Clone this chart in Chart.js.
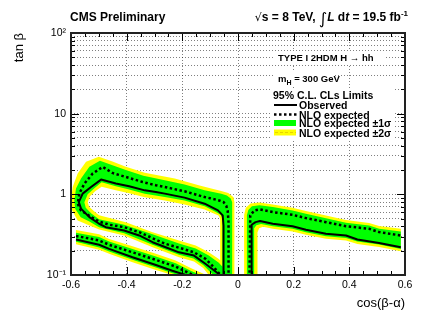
<!DOCTYPE html>
<html>
<head>
<meta charset="utf-8">
<style>
  html, body { margin: 0; padding: 0; background: #fff; }
  #wrap { width: 441px; height: 317px; }
</style>
</head>
<body>
<div id="wrap"><canvas id="limitChart" width="441" height="317"></canvas></div>
<script src="https://cdn.jsdelivr.net/npm/chart.js@4.4.1/dist/chart.umd.min.js"></script>
<script>
"use strict";

// axis ranges and tick labels
const xRange = [-0.6, 0.6];
const xMajorStep = 0.2;
const yDecades = [0.1, 1, 10, 100];
const yDecadeLabels = ['10\u207B\u00B9', '1', '10', '10\u00B2'];
const yMinorSteps = [2, 3, 4, 5, 6, 7, 8, 9];

// observed limit contours [cos(b-a), tan b]
const observedLoop = [
  [-0.052, 0.08], [-0.052, 0.41], [-0.055, 0.548], [-0.072, 0.632], [-0.12, 0.766],
  [-0.192, 0.91], [-0.263, 1.02], [-0.295, 1.068], [-0.335, 1.12], [-0.391, 1.258],
  [-0.439, 1.359], [-0.492, 1.524], [-0.528, 1.233], [-0.558, 1.02], [-0.572, 0.802],
  [-0.564, 0.664], [-0.534, 0.522], [-0.499, 0.432], [-0.475, 0.392], [-0.409, 0.356],
  [-0.355, 0.309], [-0.307, 0.255], [-0.26, 0.221], [-0.212, 0.191], [-0.158, 0.174],
  [-0.116, 0.137], [-0.069, 0.103], [-0.064, 0.095]
];
const observedLow = [
  [-0.582, 0.275], [-0.499, 0.237], [-0.463, 0.211], [-0.379, 0.166], [-0.295, 0.133],
  [-0.236, 0.113], [-0.188, 0.1], [-0.18, 0.096]
];
const observedRight = [
  [0.049, 0.08], [0.049, 0.42], [0.063, 0.452], [0.079, 0.466], [0.125, 0.432],
  [0.196, 0.403], [0.244, 0.363], [0.316, 0.324], [0.388, 0.309], [0.429, 0.275],
  [0.507, 0.25], [0.585, 0.221]
];

// NLO expected contours
const expectedLoop = [
  [-0.034, 0.08], [-0.034, 0.45], [-0.037, 0.62], [-0.042, 0.72], [-0.052, 0.8],
  [-0.068, 0.84], [-0.1, 0.895], [-0.12, 0.925], [-0.192, 1.09], [-0.263, 1.233],
  [-0.295, 1.294], [-0.343, 1.423], [-0.403, 1.642], [-0.451, 1.84], [-0.486, 2.19],
  [-0.522, 1.81], [-0.552, 1.359], [-0.57, 1.02], [-0.576, 0.766], [-0.564, 0.63],
  [-0.53, 0.53], [-0.499, 0.46], [-0.463, 0.42], [-0.409, 0.392], [-0.355, 0.339],
  [-0.307, 0.286], [-0.26, 0.243], [-0.206, 0.215], [-0.158, 0.191], [-0.116, 0.158],
  [-0.087, 0.125], [-0.063, 0.1], [-0.058, 0.094]
];
const expectedLow = [
  [-0.582, 0.305], [-0.499, 0.268], [-0.463, 0.237], [-0.379, 0.191], [-0.295, 0.154],
  [-0.224, 0.127], [-0.17, 0.103], [-0.158, 0.097]
];
const expectedRight = [
  [0.041, 0.08], [0.044, 0.548], [0.059, 0.632], [0.077, 0.651], [0.125, 0.602],
  [0.196, 0.558], [0.244, 0.507], [0.316, 0.452], [0.388, 0.403], [0.471, 0.374],
  [0.507, 0.34], [0.585, 0.309]
];

// +-1 sigma band edges
const greenLoopOuter = [
  [-0.021, 0.08], [-0.021, 0.8], [-0.026, 0.89], [-0.04, 0.97], [-0.06, 1.02],
  [-0.12, 1.12], [-0.192, 1.32], [-0.263, 1.49], [-0.34, 1.7], [-0.403, 2.0],
  [-0.451, 2.3], [-0.496, 2.6], [-0.534, 2.19], [-0.564, 1.57], [-0.582, 1.18],
  [-0.588, 0.84], [-0.585, 0.664], [-0.565, 0.52], [-0.534, 0.46], [-0.499, 0.392],
  [-0.409, 0.33], [-0.307, 0.237], [-0.212, 0.178], [-0.16, 0.16], [-0.125, 0.133],
  [-0.1, 0.109], [-0.088, 0.1], [-0.08, 0.09]
];
const greenLoopInner = [
  [-0.056, 0.08], [-0.056, 0.5], [-0.062, 0.56], [-0.078, 0.6], [-0.12, 0.71],
  [-0.192, 0.84], [-0.263, 0.93], [-0.335, 1.02], [-0.391, 1.15], [-0.439, 1.26],
  [-0.49, 1.41], [-0.515, 1.2], [-0.54, 1.0], [-0.552, 0.8], [-0.547, 0.68],
  [-0.527, 0.58], [-0.499, 0.49], [-0.409, 0.42], [-0.307, 0.32], [-0.212, 0.245],
  [-0.152, 0.213], [-0.105, 0.174], [-0.069, 0.142], [-0.045, 0.115], [-0.03, 0.09]
];
const greenLowTop = [
  [-0.582, 0.335], [-0.499, 0.295], [-0.463, 0.26], [-0.379, 0.21], [-0.295, 0.17],
  [-0.224, 0.14], [-0.17, 0.113], [-0.134, 0.1], [-0.12, 0.094]
];
const greenLowBottom = [
  [-0.582, 0.258], [-0.499, 0.22], [-0.463, 0.196], [-0.379, 0.155], [-0.295, 0.124],
  [-0.236, 0.105], [-0.215, 0.1], [-0.2, 0.094]
];
const greenRightUpper = [
  [0.032, 0.08], [0.032, 0.55], [0.037, 0.64], [0.05, 0.71], [0.077, 0.73],
  [0.125, 0.695], [0.196, 0.632], [0.244, 0.575], [0.316, 0.507], [0.388, 0.444],
  [0.471, 0.41], [0.507, 0.374], [0.585, 0.346]
];
const greenRightLower = [
  [0.058, 0.08], [0.058, 0.38], [0.066, 0.415], [0.083, 0.43], [0.125, 0.403],
  [0.196, 0.374], [0.244, 0.34], [0.316, 0.303], [0.388, 0.287], [0.429, 0.26],
  [0.507, 0.238], [0.585, 0.21]
];

// +-2 sigma band edges
const yellowLoopOuter = [
  [-0.013, 0.08], [-0.013, 0.8], [-0.016, 0.92], [-0.035, 1.04], [-0.06, 1.1],
  [-0.096, 1.18], [-0.138, 1.29], [-0.227, 1.57], [-0.335, 1.85], [-0.403, 2.2],
  [-0.451, 2.55], [-0.5, 2.93], [-0.546, 2.53], [-0.576, 1.81], [-0.594, 1.23],
  [-0.6, 0.84], [-0.596, 0.632], [-0.576, 0.475], [-0.54, 0.42], [-0.499, 0.367],
  [-0.409, 0.309], [-0.307, 0.221], [-0.212, 0.166], [-0.158, 0.147], [-0.125, 0.122],
  [-0.105, 0.1], [-0.095, 0.088]
];
const yellowLoopInner = [
  [-0.064, 0.08], [-0.064, 0.5], [-0.07, 0.545], [-0.085, 0.575], [-0.12, 0.65],
  [-0.192, 0.75], [-0.263, 0.84], [-0.335, 0.92], [-0.391, 1.03], [-0.439, 1.12],
  [-0.49, 1.24], [-0.512, 1.1], [-0.532, 0.95], [-0.54, 0.8], [-0.535, 0.7],
  [-0.515, 0.61], [-0.499, 0.55], [-0.403, 0.452], [-0.307, 0.339], [-0.212, 0.267],
  [-0.152, 0.232], [-0.105, 0.191], [-0.069, 0.158], [-0.04, 0.125], [-0.02, 0.09]
];
const yellowLowTop = [
  [-0.582, 0.36], [-0.499, 0.32], [-0.463, 0.28], [-0.379, 0.227], [-0.295, 0.183],
  [-0.224, 0.151], [-0.17, 0.122], [-0.114, 0.1], [-0.1, 0.094]
];
const yellowLowBottom = [
  [-0.582, 0.24], [-0.499, 0.205], [-0.463, 0.183], [-0.379, 0.144], [-0.295, 0.115],
  [-0.236, 0.1], [-0.22, 0.094]
];
const yellowRightUpper = [
  [0.022, 0.08], [0.022, 0.56], [0.028, 0.68], [0.045, 0.77], [0.077, 0.79],
  [0.125, 0.75], [0.196, 0.68], [0.244, 0.62], [0.316, 0.545], [0.388, 0.48],
  [0.471, 0.44], [0.507, 0.405], [0.585, 0.375]
];
const yellowRightLower = [
  [0.07, 0.08], [0.07, 0.34], [0.076, 0.38], [0.09, 0.395], [0.125, 0.375],
  [0.196, 0.347], [0.244, 0.315], [0.316, 0.282], [0.388, 0.267], [0.429, 0.243],
  [0.507, 0.222], [0.585, 0.197]
];

const legendEntries = ['Observed', 'NLO expected', 'NLO expected \u00B11\u03C3', 'NLO expected \u00B12\u03C3'];

const GREEN = '#00ff00';
const YELLOW = '#ffff00';
const FONT = '"Liberation Sans", Arial, Helvetica, sans-serif';

Chart.defaults.font.family = FONT;
Chart.defaults.color = '#000';

const toPoints = arr => arr.map(([x, y]) => ({ x, y }));
// closed band: one edge forward, the other edge back
const toBand = (edgeA, edgeB) => toPoints(edgeA.concat(edgeB.slice().reverse()));

function bandSet(label, edgeA, edgeB, color, order) {
  return {
    label,
    data: toBand(edgeA, edgeB),
    fill: 'shape',
    backgroundColor: color,
    borderColor: 'rgba(0,0,0,0)',
    borderWidth: 0,
    pointRadius: 0,
    order
  };
}

function lineSet(label, arr, dashed) {
  return {
    label,
    data: toPoints(arr),
    fill: false,
    borderColor: '#000',
    borderWidth: dashed ? 2.5 : 2,
    borderDash: dashed ? [2.5, 2.5] : [],
    borderJoinStyle: dashed ? 'miter' : 'round',
    pointRadius: 0,
    order: dashed ? 2 : 1
  };
}

// y ticks: every 1..9 x 10^n between 0.1 and 100
const yTicks = [];
yDecades.forEach((d, i) => {
  yTicks.push(d);
  if (i < yDecades.length - 1) yMinorSteps.forEach(m => yTicks.push(d * m));
});

function drawHeader(ctx, area) {
  ctx.fillStyle = '#000';
  ctx.textAlign = 'left';
  ctx.textBaseline = 'alphabetic';
  ctx.font = 'bold 12px ' + FONT;
  ctx.fillText('CMS Preliminary', area.left - 1, 21);

  const bold = 'bold 12px ' + FONT;
  const ital = 'italic bold 12px ' + FONT;
  const pieces = [
    { t: '\u221A', f: '11px "DejaVu Sans"', dy: 0 },
    { t: 's = 8 TeV, ', f: bold, dy: 0 },
    { t: '\u222B', f: '16px "DejaVu Sans"', dy: 3 },
    { t: 'L', f: ital, dy: 0 },
    { t: ' d', f: bold, dy: 0 },
    { t: 't', f: ital, dy: 0 },
    { t: ' = 19.5 fb', f: bold, dy: 0 },
    { t: '-1', f: 'bold 8px ' + FONT, dy: -5 }
  ];
  let total = 0;
  pieces.forEach(p => { ctx.font = p.f; p.w = ctx.measureText(p.t).width; total += p.w; });
  let px = area.right + 3 - total;
  pieces.forEach(p => { ctx.font = p.f; ctx.fillText(p.t, px, 21 + p.dy); px += p.w; });
}

function drawLegend(ctx) {
  ctx.fillStyle = '#fff';
  ctx.fillRect(273, 51, 112, 13);
  ctx.fillRect(273, 72, 62, 15);
  ctx.fillRect(271, 88, 122, 51);

  ctx.fillStyle = '#000';
  ctx.textAlign = 'left';
  ctx.textBaseline = 'alphabetic';
  ctx.font = 'bold 9.5px ' + FONT;
  ctx.fillText('TYPE I 2HDM H \u2192 hh', 278, 61);

  let px = 278;
  ctx.fillText('m', px, 82);
  px += ctx.measureText('m').width;
  ctx.font = 'bold 7px ' + FONT;
  ctx.fillText('H', px, 84.5);
  px += ctx.measureText('H').width;
  ctx.font = 'bold 9.5px ' + FONT;
  ctx.fillText(' = 300 GeV', px, 82);

  ctx.font = 'bold 10.5px ' + FONT;
  ctx.fillText('95% C.L. CLs Limits', 273, 99);

  const rowY = [105, 114.5, 123, 132.5];
  // symbols
  ctx.strokeStyle = '#000';
  ctx.lineWidth = 2;
  ctx.beginPath(); ctx.moveTo(274, rowY[0]); ctx.lineTo(297, rowY[0]); ctx.stroke();
  ctx.lineWidth = 2.5;
  ctx.setLineDash([2.5, 2.5]);
  ctx.beginPath(); ctx.moveTo(274, rowY[1]); ctx.lineTo(297, rowY[1]); ctx.stroke();
  ctx.setLineDash([]);
  ctx.fillStyle = GREEN;
  ctx.fillRect(274, rowY[2] - 3, 22, 6);
  ctx.fillStyle = YELLOW;
  ctx.fillRect(274, rowY[3] - 3, 22, 6);
  ctx.strokeStyle = '#e8d200';
  ctx.lineWidth = 1;
  ctx.setLineDash([3, 2]);
  ctx.beginPath(); ctx.moveTo(275, rowY[3]); ctx.lineTo(296, rowY[3]); ctx.stroke();
  ctx.setLineDash([]);

  ctx.fillStyle = '#000';
  ctx.font = 'bold 10.5px ' + FONT;
  legendEntries.forEach((txt, i) => ctx.fillText(txt, 299, rowY[i] + 4));
}

function drawFrame(ctx, area, xs, ys) {
  ctx.strokeStyle = '#000';
  ctx.lineWidth = 1;
  ctx.beginPath();
  for (let i = -12; i <= 12; i++) {
    const px = Math.round(xs.getPixelForValue(i * 0.05)) + 0.5;
    const len = i % 4 === 0 ? 8 : 4;
    ctx.moveTo(px, area.bottom); ctx.lineTo(px, area.bottom - len);
    ctx.moveTo(px, area.top); ctx.lineTo(px, area.top + len);
  }
  yTicks.forEach(v => {
    const py = Math.round(ys.getPixelForValue(v)) + 0.5;
    const len = yDecades.includes(v) ? 8 : 4;
    ctx.moveTo(area.left, py); ctx.lineTo(area.left + len, py);
    ctx.moveTo(area.right, py); ctx.lineTo(area.right - len, py);
  });
  ctx.stroke();
  ctx.lineWidth = 2;
  ctx.strokeStyle = '#222';
  ctx.strokeRect(area.left, area.top, area.right - area.left, area.bottom - area.top);
}

const rootStyle = {
  id: 'rootStyle',
  afterDraw(chart) {
    const { ctx, chartArea, scales } = chart;
    ctx.save();
    drawLegend(ctx);
    drawFrame(ctx, chartArea, scales.x, scales.y);
    drawHeader(ctx, chartArea);
    ctx.restore();
  }
};

const datasets = [
  bandSet('2 sigma loop', yellowLoopOuter, yellowLoopInner, YELLOW, 4),
  bandSet('2 sigma low', yellowLowTop, yellowLowBottom, YELLOW, 4),
  bandSet('2 sigma right', yellowRightUpper, yellowRightLower, YELLOW, 4),
  bandSet('1 sigma loop', greenLoopOuter, greenLoopInner, GREEN, 3),
  bandSet('1 sigma low', greenLowTop, greenLowBottom, GREEN, 3),
  bandSet('1 sigma right', greenRightUpper, greenRightLower, GREEN, 3),
  lineSet('Expected loop', expectedLoop, true),
  lineSet('Expected low', expectedLow, true),
  lineSet('Expected right', expectedRight, true),
  lineSet('Observed loop', observedLoop, false),
  lineSet('Observed low', observedLow, false),
  lineSet('Observed right', observedRight, false)
];

const gridColor = 'rgba(0,0,0,0.5)';

new Chart(document.getElementById('limitChart').getContext('2d'), {
  type: 'line',
  data: { datasets },
  options: {
    responsive: false,
    animation: false,
    events: [],
    layout: { padding: { top: 33, right: 36, left: 0, bottom: 0 } },
    plugins: {
      legend: { display: false },
      tooltip: { enabled: false },
      filler: { propagate: false }
    },
    scales: {
      x: {
        type: 'linear',
        min: xRange[0],
        max: xRange[1],
        ticks: { stepSize: xMajorStep, padding: 4, font: { size: 10.5 }, color: '#000' },
        grid: { drawTicks: false, color: gridColor, lineWidth: 1 },
        border: { display: false, dash: [1, 2] },
        title: {
          display: true,
          text: 'cos(\u03B2-\u03B1)',
          align: 'end',
          font: { size: 13 },
          color: '#000',
          padding: { top: 0, bottom: 6 }
        },
        afterFit: scale => { scale.height = 42; }
      },
      y: {
        type: 'logarithmic',
        min: yDecades[0],
        max: yDecades[yDecades.length - 1],
        afterBuildTicks: scale => { scale.ticks = yTicks.map(value => ({ value })); },
        ticks: {
          autoSkip: false,
          padding: 5,
          font: { size: 10.5 },
          color: '#000',
          callback: value => {
            const i = yDecades.indexOf(value);
            return i >= 0 ? yDecadeLabels[i] : '';
          }
        },
        grid: { drawTicks: false, color: gridColor, lineWidth: 1 },
        border: { display: false, dash: [1, 2] },
        title: {
          display: true,
          text: 'tan \u03B2',
          align: 'end',
          font: { size: 13 },
          color: '#000',
          padding: { top: 12, bottom: 0 }
        },
        afterFit: scale => { scale.width = 71; }
      }
    }
  },
  plugins: [rootStyle]
});
</script>
</body>
</html>
